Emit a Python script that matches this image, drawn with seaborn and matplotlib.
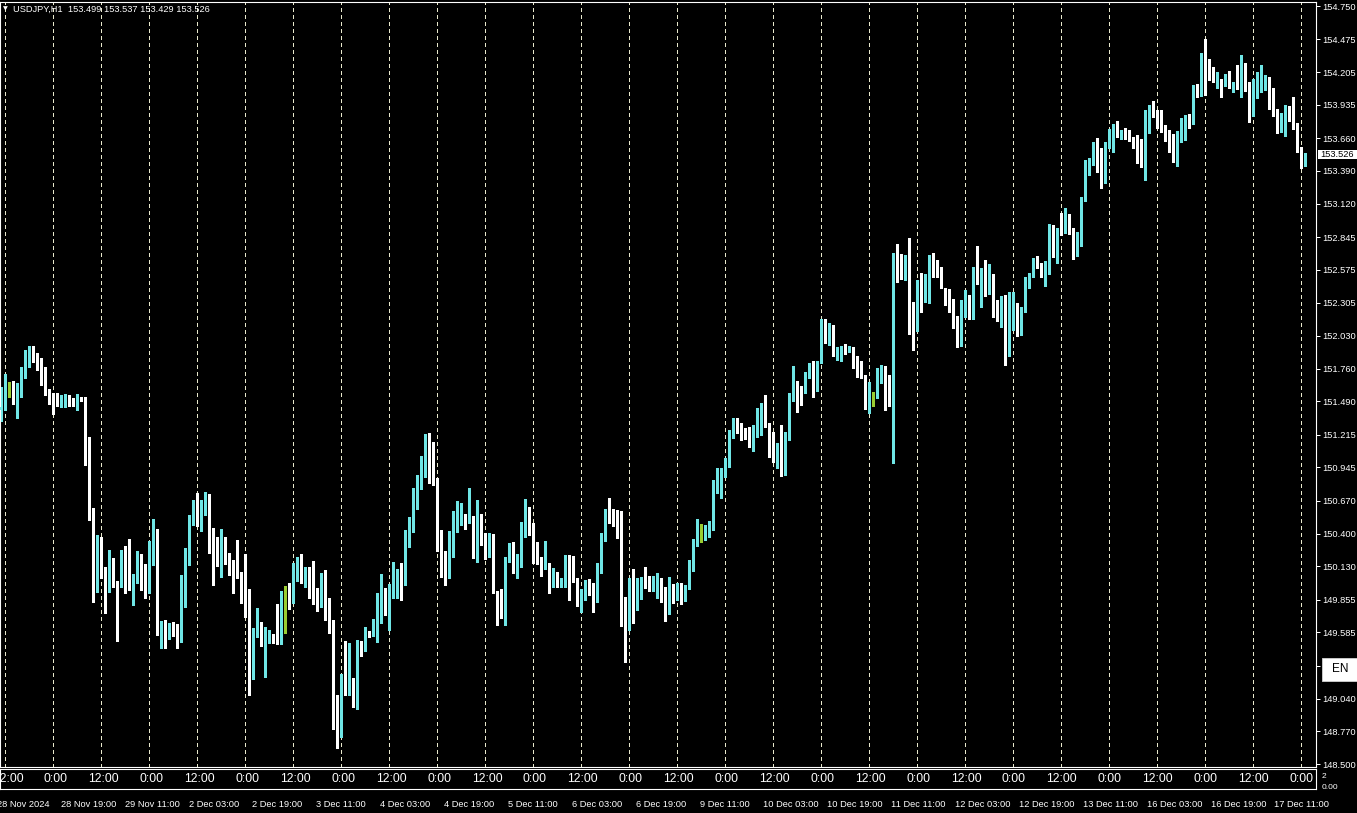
import numpy as np
import pandas as pd
import matplotlib
matplotlib.use("Agg")
import matplotlib.pyplot as plt
import seaborn as sns
from matplotlib.patches import Rectangle
from matplotlib.transforms import ScaledTranslation, blended_transform_factory

# ---------------- data (USDJPY H1, candle 0 = 28 Nov 04:00) ----------------
open_ = [151.419, 151.430, 151.612, 151.617, 151.529, 151.535, 151.744, 151.823, 151.881, 151.848,
         151.832, 151.757, 151.568, 151.518, 151.510, 151.474, 151.480, 151.529, 151.491, 151.447,
         151.521, 151.502, 151.183, 150.573, 149.921, 150.161, 150.095, 149.990, 150.095, 149.996,
         149.976, 150.183, 150.150, 149.954, 150.031, 150.147, 149.963, 149.930, 150.169, 150.413,
         149.583, 149.638, 149.592, 149.627, 149.550, 149.523, 149.853, 150.188, 150.512, 150.587,
         150.512, 150.567, 150.718, 150.320, 150.237, 150.210, 150.339, 150.166, 150.141, 150.122,
         150.072, 149.952, 149.858, 149.253, 149.583, 149.638, 149.506, 149.523, 149.564, 149.545,
         149.495, 149.858, 149.864, 149.853, 150.083, 150.141, 150.012, 150.100, 149.998, 149.913,
         149.803, 150.040, 149.721, 149.671, 148.844, 148.792, 149.143, 149.110, 149.198, 149.023,
         149.501, 149.440, 149.578, 149.572, 149.600, 149.858, 149.919, 149.756, 149.921, 149.954,
         150.094, 149.989, 150.369, 150.424, 150.608, 150.847, 150.874, 151.166, 151.061, 150.841,
         150.388, 150.182, 150.154, 150.396, 150.424, 150.506, 150.511, 150.498, 150.533, 150.209,
         150.531, 150.333, 150.270, 150.388, 149.926, 149.778, 149.769, 150.176, 150.305, 150.105,
         150.140, 150.388, 150.608, 150.478, 150.242, 150.204, 150.113, 150.149, 149.995, 150.077,
         150.020, 150.022, 150.105, 150.094, 150.031, 149.811, 149.866, 149.967, 149.926, 149.852,
         150.077, 150.347, 150.566, 150.561, 150.503, 150.402, 149.654, 149.632, 149.858, 149.775,
         149.940, 149.984, 149.968, 149.945, 149.886, 149.962, 149.886, 149.830, 149.902, 149.893,
         149.968, 149.874, 149.957, 150.127, 150.336, 150.413, 150.407, 150.441, 150.490, 150.754,
         150.864, 150.919, 151.007, 151.232, 151.323, 151.273, 151.240, 151.213, 151.103, 151.213,
         151.378, 151.441, 151.309, 151.199, 151.056, 151.122, 150.919, 151.205, 151.543, 151.625,
         151.589, 151.578, 151.694, 151.782, 151.666, 151.818, 152.120, 152.037, 152.106, 151.913,
         151.914, 151.928, 151.914, 151.933, 151.831, 151.721, 151.699, 151.433, 151.542, 151.534,
         151.743, 151.762, 151.652, 151.611, 152.678, 152.595, 152.540, 152.650, 152.293, 152.120,
         152.463, 152.334, 152.485, 152.678, 152.639, 152.592, 152.410, 152.403, 152.257, 152.183,
         151.963, 152.304, 152.353, 152.175, 152.491, 152.469, 152.568, 152.491, 152.524, 152.318,
         152.183, 152.265, 152.023, 152.238, 152.285, 152.073, 152.249, 152.469, 152.524, 152.656,
         152.614, 152.573, 152.587, 152.821, 152.757, 152.903, 152.884, 152.950, 152.884, 152.697,
         152.779, 153.150, 153.398, 153.453, 153.618, 153.461, 153.296, 153.590, 153.659, 153.747,
         153.681, 153.700, 153.686, 153.653, 153.612, 153.604, 153.453, 153.802, 153.901, 153.879,
         153.810, 153.741, 153.664, 153.645, 153.516, 153.686, 153.791, 153.838, 153.791, 154.093,
         154.016, 154.305, 154.242, 154.176, 154.126, 154.126, 154.121, 154.148, 154.058, 154.121,
         154.085, 154.154, 154.099, 153.994, 154.030, 154.044, 154.126, 154.140, 154.058, 153.865,
         153.783, 153.838, 153.912, 153.824, 153.769, 153.555, 153.499]
high = [151.612, 151.713, 151.653, 151.658, 151.639, 151.771, 151.914, 151.947, 151.947, 151.887,
        151.845, 151.771, 151.590, 151.562, 151.562, 151.543, 151.551, 151.543, 151.516, 151.551,
        151.529, 151.529, 151.199, 150.609, 150.389, 150.375, 150.128, 150.265, 150.196, 150.012,
        150.265, 150.298, 150.353, 150.064, 150.257, 150.229, 150.150, 150.339, 150.518, 150.435,
        149.682, 149.688, 149.660, 149.669, 149.655, 150.059, 150.279, 150.554, 150.677, 150.737,
        150.677, 150.740, 150.725, 150.444, 150.369, 150.435, 150.369, 150.237, 150.182, 150.347,
        150.086, 150.232, 149.941, 149.619, 149.784, 149.674, 149.633, 149.605, 149.570, 149.820,
        149.927, 149.968, 149.990, 150.155, 150.210, 150.232, 150.127, 150.122, 150.174, 149.949,
        150.072, 150.100, 149.866, 149.688, 149.069, 149.240, 149.515, 149.501, 149.207, 149.523,
        149.515, 149.627, 149.600, 149.693, 149.908, 150.064, 149.949, 149.984, 150.163, 150.105,
        150.160, 150.429, 150.534, 150.773, 150.883, 151.039, 151.221, 151.226, 151.157, 150.855,
        150.429, 150.259, 150.424, 150.588, 150.671, 150.654, 150.561, 150.773, 150.544, 150.676,
        150.561, 150.402, 150.402, 150.396, 149.929, 149.940, 150.209, 150.319, 150.333, 150.231,
        150.498, 150.682, 150.616, 150.484, 150.327, 150.209, 150.338, 150.155, 150.113, 150.083,
        150.030, 150.223, 150.223, 150.215, 150.035, 149.940, 150.017, 150.022, 149.989, 150.160,
        150.407, 150.599, 150.690, 150.599, 150.594, 150.589, 149.880, 150.031, 150.105, 150.031,
        150.045, 150.127, 150.050, 150.050, 150.072, 150.031, 149.962, 150.045, 149.984, 149.990,
        149.995, 149.976, 150.182, 150.353, 150.518, 150.479, 150.471, 150.507, 150.842, 150.938,
        150.938, 151.020, 151.254, 151.350, 151.350, 151.314, 151.268, 151.282, 151.295, 151.433,
        151.474, 151.543, 151.315, 151.240, 151.144, 151.295, 151.240, 151.556, 151.782, 151.661,
        151.617, 151.735, 151.804, 151.826, 151.826, 152.167, 152.167, 152.139, 152.120, 151.941,
        151.947, 151.963, 151.947, 151.941, 151.864, 151.826, 151.707, 151.652, 151.570, 151.762,
        151.790, 151.782, 151.707, 152.716, 152.788, 152.705, 152.697, 152.840, 152.312, 152.491,
        152.551, 152.540, 152.697, 152.716, 152.656, 152.601, 152.422, 152.414, 152.331, 152.194,
        152.326, 152.408, 152.367, 152.601, 152.771, 152.587, 152.656, 152.623, 152.540, 152.326,
        152.359, 152.367, 152.394, 152.394, 152.304, 152.265, 152.518, 152.551, 152.669, 152.689,
        152.628, 152.650, 152.952, 152.944, 152.917, 153.041, 153.082, 153.032, 152.917, 152.889,
        153.178, 153.480, 153.500, 153.626, 153.659, 153.576, 153.631, 153.736, 153.774, 153.802,
        153.728, 153.741, 153.728, 153.673, 153.686, 153.653, 153.893, 153.934, 153.967, 153.893,
        153.893, 153.769, 153.728, 153.692, 153.719, 153.824, 153.851, 153.857, 154.099, 154.104,
        154.360, 154.478, 154.313, 154.250, 154.209, 154.148, 154.187, 154.214, 154.126, 154.264,
        154.346, 154.277, 154.126, 154.148, 154.209, 154.264, 154.181, 154.168, 154.071, 153.901,
        153.865, 153.934, 153.928, 154.002, 153.783, 153.590, 153.537]
low = [151.331, 151.419, 151.529, 151.469, 151.351, 151.529, 151.686, 151.777, 151.818, 151.749,
       151.626, 151.543, 151.469, 151.386, 151.452, 151.441, 151.447, 151.452, 151.452, 151.419,
       151.494, 150.966, 150.512, 149.839, 149.915, 150.031, 149.748, 149.921, 149.963, 149.517,
       149.963, 149.908, 149.935, 149.812, 149.990, 149.935, 149.866, 149.908, 150.141, 149.564,
       149.454, 149.454, 149.528, 149.556, 149.454, 149.509, 149.792, 150.141, 150.471, 150.463,
       150.424, 150.553, 150.243, 149.976, 150.133, 150.040, 150.149, 150.059, 149.908, 150.031,
       149.825, 149.715, 149.069, 149.198, 149.545, 149.473, 149.215, 149.495, 149.495, 149.490,
       149.490, 149.583, 149.776, 149.825, 150.012, 149.996, 149.963, 149.866, 149.820, 149.765,
       149.798, 149.688, 149.583, 148.786, 148.630, 148.726, 149.069, 149.069, 148.968, 148.951,
       149.391, 149.435, 149.550, 149.556, 149.509, 149.666, 149.729, 149.605, 149.866, 149.872,
       149.852, 149.976, 150.292, 150.415, 150.600, 150.764, 150.863, 150.819, 150.800, 150.259,
       150.039, 149.976, 150.031, 150.209, 150.415, 150.470, 150.434, 150.484, 150.196, 150.168,
       150.305, 150.187, 150.209, 149.907, 149.646, 149.701, 149.646, 150.168, 150.072, 150.031,
       150.127, 150.369, 150.388, 150.154, 150.149, 150.050, 150.105, 149.907, 149.962, 149.956,
       149.962, 149.962, 149.852, 150.003, 149.805, 149.756, 149.852, 149.893, 149.756, 149.838,
       150.072, 150.341, 150.484, 150.462, 150.360, 149.638, 149.344, 149.605, 149.660, 149.770,
       149.858, 149.949, 149.929, 149.929, 149.866, 149.839, 149.682, 149.737, 149.830, 149.852,
       149.819, 149.847, 149.940, 150.094, 150.298, 150.333, 150.347, 150.375, 150.430, 150.732,
       150.691, 150.869, 150.952, 151.185, 151.232, 151.172, 151.177, 151.117, 151.084, 151.199,
       151.213, 151.276, 151.029, 150.993, 150.938, 150.875, 150.883, 151.172, 151.496, 151.405,
       151.460, 151.556, 151.680, 151.523, 151.578, 151.809, 151.969, 151.955, 151.864, 151.831,
       151.826, 151.881, 151.900, 151.762, 151.694, 151.680, 151.424, 151.391, 151.452, 151.515,
       151.644, 151.419, 151.452, 150.985, 152.477, 152.496, 152.491, 152.045, 151.914, 152.073,
       152.230, 152.312, 152.304, 152.518, 152.513, 152.422, 152.285, 152.230, 152.092, 151.941,
       151.947, 152.188, 152.166, 152.166, 152.458, 152.265, 152.359, 152.375, 152.188, 152.155,
       152.100, 151.790, 151.864, 152.078, 152.029, 152.037, 152.230, 152.422, 152.518, 152.587,
       152.518, 152.441, 152.540, 152.678, 152.634, 152.862, 152.876, 152.867, 152.664, 152.690,
       152.774, 153.142, 153.357, 153.439, 153.384, 153.252, 153.288, 153.582, 153.544, 153.673,
       153.653, 153.653, 153.637, 153.582, 153.453, 153.425, 153.315, 153.700, 153.838, 153.747,
       153.714, 153.637, 153.544, 153.467, 153.434, 153.631, 153.645, 153.741, 153.774, 154.002,
       154.011, 154.016, 154.140, 154.126, 154.071, 154.002, 154.093, 154.071, 154.038, 154.066,
       154.002, 154.049, 153.791, 153.846, 153.989, 154.038, 154.058, 153.901, 153.846, 153.700,
       153.708, 153.681, 153.802, 153.736, 153.544, 153.417, 153.429]
close = [151.441, 151.617, 151.612, 151.529, 151.543, 151.749, 151.832, 151.881, 151.837, 151.826,
         151.749, 151.551, 151.510, 151.502, 151.469, 151.488, 151.529, 151.480, 151.463, 151.510,
         151.499, 151.172, 150.562, 149.921, 150.161, 150.084, 149.996, 150.100, 149.985, 149.976,
         150.183, 150.150, 149.957, 150.037, 150.147, 149.949, 149.930, 150.174, 150.413, 149.592,
         149.638, 149.592, 149.638, 149.592, 149.528, 149.853, 150.196, 150.518, 150.587, 150.512,
         150.567, 150.718, 150.320, 150.237, 150.210, 150.339, 150.160, 150.133, 150.116, 150.067,
         149.946, 149.858, 149.253, 149.589, 149.644, 149.509, 149.528, 149.567, 149.509, 149.501,
         149.858, 149.858, 149.847, 150.083, 150.141, 150.017, 150.100, 149.990, 149.902, 149.803,
         150.040, 149.715, 149.671, 148.836, 148.792, 149.143, 149.105, 149.198, 149.023, 149.501,
         149.440, 149.569, 149.561, 149.605, 149.858, 149.919, 149.756, 149.927, 149.963, 150.092,
         149.989, 150.380, 150.429, 150.616, 150.855, 150.883, 151.166, 151.056, 150.836, 150.380,
         150.176, 150.154, 150.413, 150.429, 150.511, 150.544, 150.500, 150.533, 150.209, 150.531,
         150.319, 150.278, 150.380, 149.921, 149.764, 149.761, 150.187, 150.305, 150.099, 150.149,
         150.396, 150.608, 150.470, 150.242, 150.193, 150.121, 150.149, 149.995, 150.077, 149.995,
         150.024, 150.105, 150.086, 150.022, 149.811, 149.871, 149.967, 149.921, 149.852, 150.077,
         150.352, 150.566, 150.553, 150.498, 150.388, 149.646, 149.638, 149.858, 149.775, 149.949,
         149.984, 149.957, 149.940, 149.949, 149.968, 149.880, 149.830, 149.907, 149.893, 149.968,
         149.880, 149.962, 150.133, 150.342, 150.413, 150.413, 150.451, 150.490, 150.759, 150.869,
         150.924, 151.012, 151.232, 151.323, 151.260, 151.232, 151.199, 151.122, 151.218, 151.386,
         151.441, 151.304, 151.194, 151.056, 151.122, 150.919, 151.213, 151.551, 151.625, 151.584,
         151.586, 151.699, 151.782, 151.666, 151.823, 152.120, 152.037, 152.106, 151.908, 151.919,
         151.933, 151.914, 151.933, 151.826, 151.716, 151.688, 151.433, 151.542, 151.542, 151.749,
         151.762, 151.644, 151.611, 152.683, 152.587, 152.540, 152.650, 152.285, 152.120, 152.463,
         152.340, 152.491, 152.678, 152.634, 152.587, 152.427, 152.403, 152.249, 152.169, 151.960,
         152.312, 152.353, 152.175, 152.491, 152.469, 152.568, 152.491, 152.524, 152.312, 152.183,
         152.265, 152.023, 152.243, 152.285, 152.073, 152.257, 152.477, 152.532, 152.656, 152.601,
         152.568, 152.606, 152.821, 152.757, 152.909, 152.884, 152.950, 152.884, 152.697, 152.785,
         153.164, 153.406, 153.467, 153.618, 153.453, 153.296, 153.596, 153.665, 153.752, 153.681,
         153.700, 153.673, 153.653, 153.590, 153.582, 153.453, 153.810, 153.912, 153.873, 153.810,
         153.736, 153.659, 153.637, 153.516, 153.700, 153.802, 153.838, 153.791, 154.085, 154.016,
         154.305, 154.236, 154.167, 154.140, 154.159, 154.058, 154.154, 154.085, 154.112, 154.085,
         154.148, 154.085, 153.994, 154.044, 154.058, 154.132, 154.148, 154.058, 153.857, 153.783,
         153.846, 153.912, 153.810, 153.763, 153.549, 153.500, 153.526]

price_ticks = [148.500, 148.770, 149.040, 149.310, 149.585, 149.855, 150.130, 150.400, 150.670,
               150.945, 151.215, 151.490, 151.760, 152.030, 152.305, 152.575, 152.845, 153.120,
               153.390, 153.660, 153.935, 154.205, 154.475, 154.750]
hidden_ticks = [149.310]  # label covered by the language indicator in the screenshot
date_labels = ["28 Nov 2024", "28 Nov 19:00", "29 Nov 11:00", "2 Dec 03:00", "2 Dec 19:00",
               "3 Dec 11:00", "4 Dec 03:00", "4 Dec 19:00", "5 Dec 11:00", "6 Dec 03:00",
               "6 Dec 19:00", "9 Dec 11:00", "10 Dec 03:00", "10 Dec 19:00", "11 Dec 11:00",
               "12 Dec 03:00", "12 Dec 19:00", "13 Dec 11:00", "16 Dec 03:00", "16 Dec 19:00",
               "17 Dec 11:00"]
session_labels = ["12:00", "0:00"] * 14
header = "USDJPY,H1  153.499 153.537 153.429 153.526"
last_price = "153.526"

# ---------------- style ----------------
sns.set_theme(style="dark", rc={"axes.facecolor": "black", "figure.facecolor": "black",
                                "axes.edgecolor": "white", "text.color": "white",
                                "xtick.color": "white", "ytick.color": "white"})
plt.rcParams["font.family"] = ["Liberation Sans", "DejaVu Sans"]

CYAN = "#6fe6e6"
WHITE = "#ffffff"
DOJI = "#9acd32"
GRID = "#e8e8cc"
SMALL = 6.7

W, H = 1357, 813
fig = plt.figure(figsize=(W / 100, H / 100), dpi=100, facecolor="black")


def fx(px):
    return px / W


def fy(py):
    return 1 - py / H


ax = fig.add_axes([0, fy(767), fx(1316), (767 - 2) / H])
sub = fig.add_axes([0, fy(789), fx(1316), 20 / H])

df = pd.DataFrame({"open": open_, "high": high, "low": low, "close": close})
df["k"] = np.arange(len(df))
df["dir"] = np.sign(np.round(df["close"] - df["open"], 4)).astype(int)
df["color"] = df["dir"].map({1: CYAN, -1: WHITE, 0: DOJI})

xlim = (-0.325, 328.675)
ylim = (148.5 - 3 / 121.28, 148.5 + 762 / 121.28)

# vertical dotted grid every 12 bars
grid_k = np.arange(1, len(df) + 2, 12)
ax.vlines(grid_k, ylim[0], ylim[1], colors=GRID, linewidth=0.72,
          linestyles=(0, (3, 3)), antialiased=False, zorder=1)

# wicks
ax.vlines(df["k"], df["low"], df["high"], colors=df["color"], linewidth=0.75,
          antialiased=False, zorder=2)
# bodies
body_bottom = np.minimum(df["open"], df["close"])
body_h = np.maximum((df["close"] - df["open"]).abs(), 0.0085)
ax.bar(df["k"], body_h, bottom=body_bottom, width=0.8, color=df["color"],
       linewidth=0, antialiased=False, zorder=3)

ax.set_xlim(*xlim)
ax.set_ylim(*ylim)
ax.set_xticks([])
ax.yaxis.tick_right()
ax.set_yticks(price_ticks)
ax.set_yticklabels(["" if v in hidden_ticks else f"{v:.3f}" for v in price_ticks])
ax.tick_params(axis="y", direction="out", length=3, width=0.72, colors="white",
               labelsize=SMALL, pad=1.2)
for s in ax.spines.values():
    s.set_color("white")
    s.set_linewidth(0.8)
ax.grid(False)

# sub window with session labels
sub.set_xlim(*xlim)
sub.set_ylim(0, 1)
sub.set_yticks([])
sub.grid(False)
for s in sub.spines.values():
    s.set_color("white")
    s.set_linewidth(0.8)
trans = blended_transform_factory(sub.transData, sub.transAxes)
for k, lab in zip(grid_k, session_labels):
    sub.text(k, 0.5, lab, transform=trans, ha="center", va="center",
             fontsize=8.8, color="white")

date_k = np.arange(-1, -1 + 16 * len(date_labels), 16)
sub.set_xticks(date_k)
sub.set_xticklabels(date_labels)
sub.tick_params(axis="x", direction="out", length=3, width=0.72, colors="white",
                labelsize=SMALL, pad=5)
offset = ScaledTranslation(-3 / 100, 0, fig.dpi_scale_trans)
for lab in sub.get_xticklabels():
    lab.set_ha("left")
    lab.set_transform(lab.get_transform() + offset)

# sub window scale labels
fig.text(fx(1322), fy(776), "2", fontsize=6, color="white", va="center", ha="left")
fig.text(fx(1322), fy(787), "0.00", fontsize=6, color="white", va="center", ha="left")

# header
fig.text(fx(3), fy(8.5), "\u25bc", fontsize=4.5, color="white", va="center", ha="left",
         family="DejaVu Sans")
fig.text(fx(13), fy(9), header, fontsize=SMALL, color="white", va="center", ha="left")

# current price label
fig.patches.append(Rectangle((fx(1318), fy(159)), fx(1357) - fx(1318), fy(150) - fy(159),
                             transform=fig.transFigure, facecolor="white", edgecolor="none",
                             zorder=5))
fig.text(fx(1320.5), fy(154.5), last_price, fontsize=SMALL, color="black", va="center",
         ha="left", zorder=6)

# language indicator overlay
fig.patches.append(Rectangle((fx(1322), fy(681)), fx(1357) - fx(1322), fy(658) - fy(681),
                             transform=fig.transFigure, facecolor="white",
                             edgecolor="#c8c8c8", linewidth=0.7, zorder=5))
fig.text(fx(1332), fy(669.5), "EN", fontsize=8.5, color="black", va="center", ha="left",
         zorder=6)

fig.savefig("out.png", dpi=100, facecolor="black")
